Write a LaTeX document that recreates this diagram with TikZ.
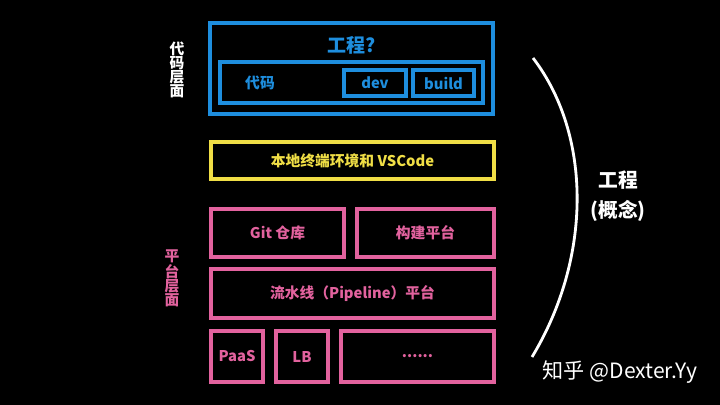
\documentclass[tikz,border=0pt]{standalone}
\usepackage{fontspec}
\setmainfont{Noto Sans CJK SC}
\usepackage{xcolor}
\usepackage{tikz}
\usetikzlibrary{positioning}
\definecolor{codeblue}{RGB}{30,142,222}
\definecolor{localyellow}{RGB}{240,222,70}
\definecolor{platpink}{RGB}{226,98,158}
\newcommand{\unitpx}{0.025cm}
\newcommand{\fsz}[1]{\fontsize{#1}{#1}\selectfont}

\begin{document}
\begin{tikzpicture}[x=\unitpx, y=-\unitpx, font=\bfseries\fsz{10.5},
    layer/.style={draw, line width=2.6pt, inner sep=0pt},
    codebox/.style={layer, codeblue, text=codeblue},
    localbox/.style={layer, localyellow, text=localyellow},
    platbox/.style={layer, platpink, text=platpink},
    sidelabel/.style={align=center, font=\bfseries\fontsize{10.5}{10}\selectfont}]
    \fill[black] (0,0) rectangle (720,405);
    \node[codebox, minimum width=283*\unitpx, minimum height=91*\unitpx] (proj) at (351.5,68.5) {};
    \node[codeblue, font=\bfseries\fsz{13.5}] (projtitle) at (352,45) {工程?};
    \node[codebox, minimum width=263*\unitpx, minimum height=41*\unitpx] (code) at (351.5,82.5) {};
    \node[codeblue] (codelabel) at (260,83) {代码};
    \node[codebox, minimum width=62*\unitpx, minimum height=26*\unitpx] (dev) at (375,83) {dev};
    \node[codebox, minimum width=61*\unitpx, minimum height=26*\unitpx] (build) at (443.5,83) {build};
    \node[white, sidelabel] (codelayer) at (177,70) {代\\码\\层\\面};
    \node[localbox, minimum width=283*\unitpx, minimum height=37*\unitpx] (local) at (352.5,160.5) {本地终端环境和 VSCode};
    \node[platbox, minimum width=133*\unitpx, minimum height=48*\unitpx] (git) at (277.5,233) {Git 仓库};
    \node[platbox, minimum width=137*\unitpx, minimum height=48*\unitpx] (buildplat) at (425.5,233) {构建平台};
    \node[platbox, minimum width=283*\unitpx, minimum height=49*\unitpx] (pipeline) at (352.5,293.5) {流水线（Pipeline）平台};
    \node[platbox, minimum width=52*\unitpx, minimum height=51*\unitpx] (paas) at (237,356.5) {PaaS};
    \node[platbox, minimum width=52*\unitpx, minimum height=51*\unitpx] (lb) at (302,356.5) {LB};
    \node[platbox, minimum width=153*\unitpx, minimum height=51*\unitpx] (more) at (417.5,356.5) {......};
    \node[platpink, sidelabel] (platlayer) at (172,278.5) {平\\台\\层\\面};
    \coordinate (arctop) at (533,58);
    \coordinate (arcbot) at (532,357);
    \draw[white, line width=2pt] (arctop) .. controls (592,135) and (592,258) .. (arcbot);
    \node[white, font=\bfseries\fsz{14}] (concept) at (618,180) {工程};
    \node[white, font=\bfseries\fsz{14}, below=1pt of concept] (conceptsub) {(概念)};
    \node[white, font=\mdseries\fsz{15}] (mark) at (620,372) {知乎 @Dexter.Yy};
\end{tikzpicture}
\end{document}
